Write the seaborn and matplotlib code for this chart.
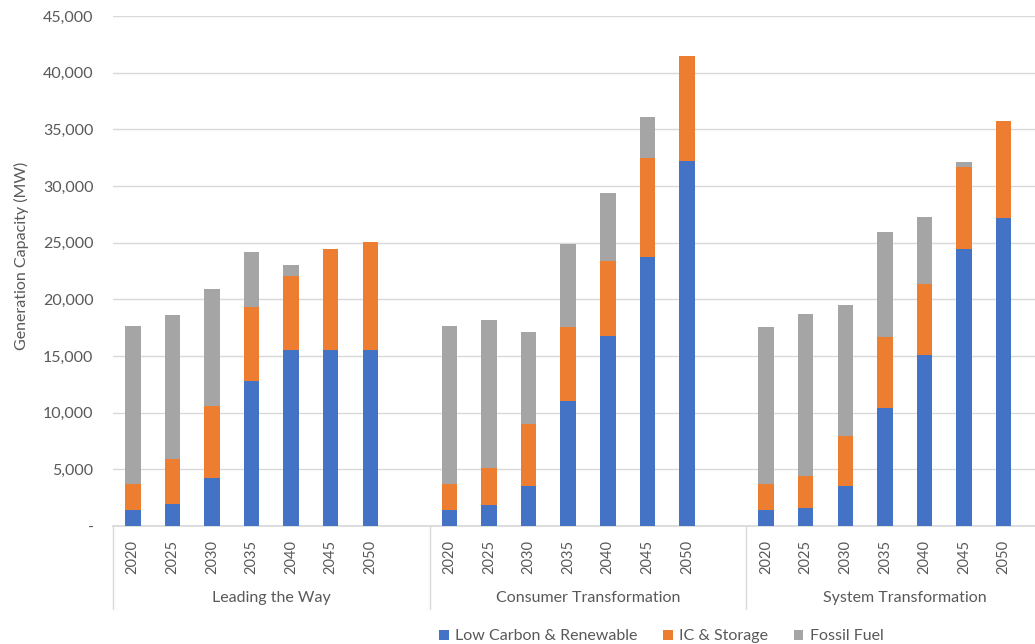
import pandas as pd
import matplotlib
matplotlib.use('Agg')
import matplotlib.pyplot as plt
from matplotlib.patches import Patch
import seaborn as sns

scenarios = ['Leading the Way', 'Consumer Transformation', 'System Transformation']
years = [2020, 2025, 2030, 2035, 2040, 2045, 2050]

# MW per technology, one list per scenario (same year order)
ltw_low = [1400, 1900, 4200, 12800, 15550, 15550, 15550]
ltw_ic = [2300, 4050, 6350, 6550, 6550, 8900, 9550]
ltw_fossil = [13950, 12700, 10400, 4850, 950, 0, 0]

ct_low = [1400, 1850, 3550, 11050, 16800, 23750, 32250]
ct_ic = [2350, 3250, 5450, 6500, 6550, 8700, 9200]
ct_fossil = [13900, 13100, 8150, 7300, 6000, 3600, 0]

st_low = [1400, 1600, 3500, 10400, 15100, 24450, 27200]
st_ic = [2300, 2850, 4400, 6300, 6250, 7250, 8550]
st_fossil = [13900, 14300, 11600, 9250, 5950, 450, 0]

series = ['Low Carbon & Renewable', 'IC & Storage', 'Fossil Fuel']
colors = ['#4472C4', '#ED7D31', '#A5A5A5']
txt_col = '#595959'

rows = []
for g, (low, ic, fos) in enumerate([(ltw_low, ltw_ic, ltw_fossil),
                                    (ct_low, ct_ic, ct_fossil),
                                    (st_low, st_ic, st_fossil)]):
    for i, yr in enumerate(years):
        rows.append({'scenario': scenarios[g], 'year': yr, 'pos': g * 8 + i,
                     'low': low[i], 'ic': ic[i], 'fossil': fos[i]})
df = pd.DataFrame(rows)
df['ic_top'] = df['low'] + df['ic']
df['total'] = df['ic_top'] + df['fossil']

sns.set_theme(style='white')
plt.rcParams['font.family'] = ['Lato', 'DejaVu Sans']

fig = plt.figure(figsize=(10.35, 6.44), dpi=100)
# axes runs a little past the right edge, as in the cropped original
ax = fig.add_axes([113 / 1035, 118 / 644, 950 / 1035, 510 / 644])

for col, c in zip(['total', 'ic_top', 'low'], colors[::-1]):
    sns.barplot(data=df, x='pos', y=col, native_scale=True, color=c, saturation=1,
                width=0.39, linewidth=0, errorbar=None, ax=ax, zorder=3)

ax.set_xlim(-0.5, 23.5)
ax.set_ylim(0, 45000)
ax.set_yticks(range(0, 45001, 5000))
ax.set_yticklabels(['-'] + ['{:,}'.format(v) for v in range(5000, 45001, 5000)])
ax.grid(axis='y', color='#D9D9D9', linewidth=1, zorder=0)
ax.set_axisbelow(True)
for s in ['top', 'right', 'left']:
    ax.spines[s].set_visible(False)
ax.spines['bottom'].set_color('#D9D9D9')

ax.set_xticks(df['pos'])
ax.set_xticklabels(df['year'], rotation=90, va='top')
ax.tick_params(axis='x', length=0, pad=10, labelsize=10.5, labelcolor=txt_col)
ax.tick_params(axis='y', length=0, pad=14, labelsize=11.5, labelcolor=txt_col)
ax.set_xlabel('')
ax.set_ylabel('Generation Capacity (MW)', fontsize=11.5, color=txt_col)
ax.yaxis.set_label_coords(-84 / 950, 0.53)

trans = ax.get_xaxis_transform()
for g, name in enumerate(scenarios):
    ax.plot([g * 8 - 0.5, g * 8 - 0.5], [0, -83 / 510], transform=trans,
            color='#D9D9D9', linewidth=1, clip_on=False)
    ax.text(g * 8 + 3.5, -72 / 510, name, transform=trans, ha='center', va='center',
            fontsize=11.5, color=txt_col)

handles = [Patch(facecolor=c, edgecolor='none') for c in colors]
fig.legend(handles, series, loc='center', bbox_to_anchor=(0.639, 0.012), ncol=3,
           frameon=False, fontsize=11.5, labelcolor=txt_col, handlelength=0.6,
           handleheight=0.6, handletextpad=0.4, columnspacing=1.6)

fig.savefig('out.png', dpi=100)
